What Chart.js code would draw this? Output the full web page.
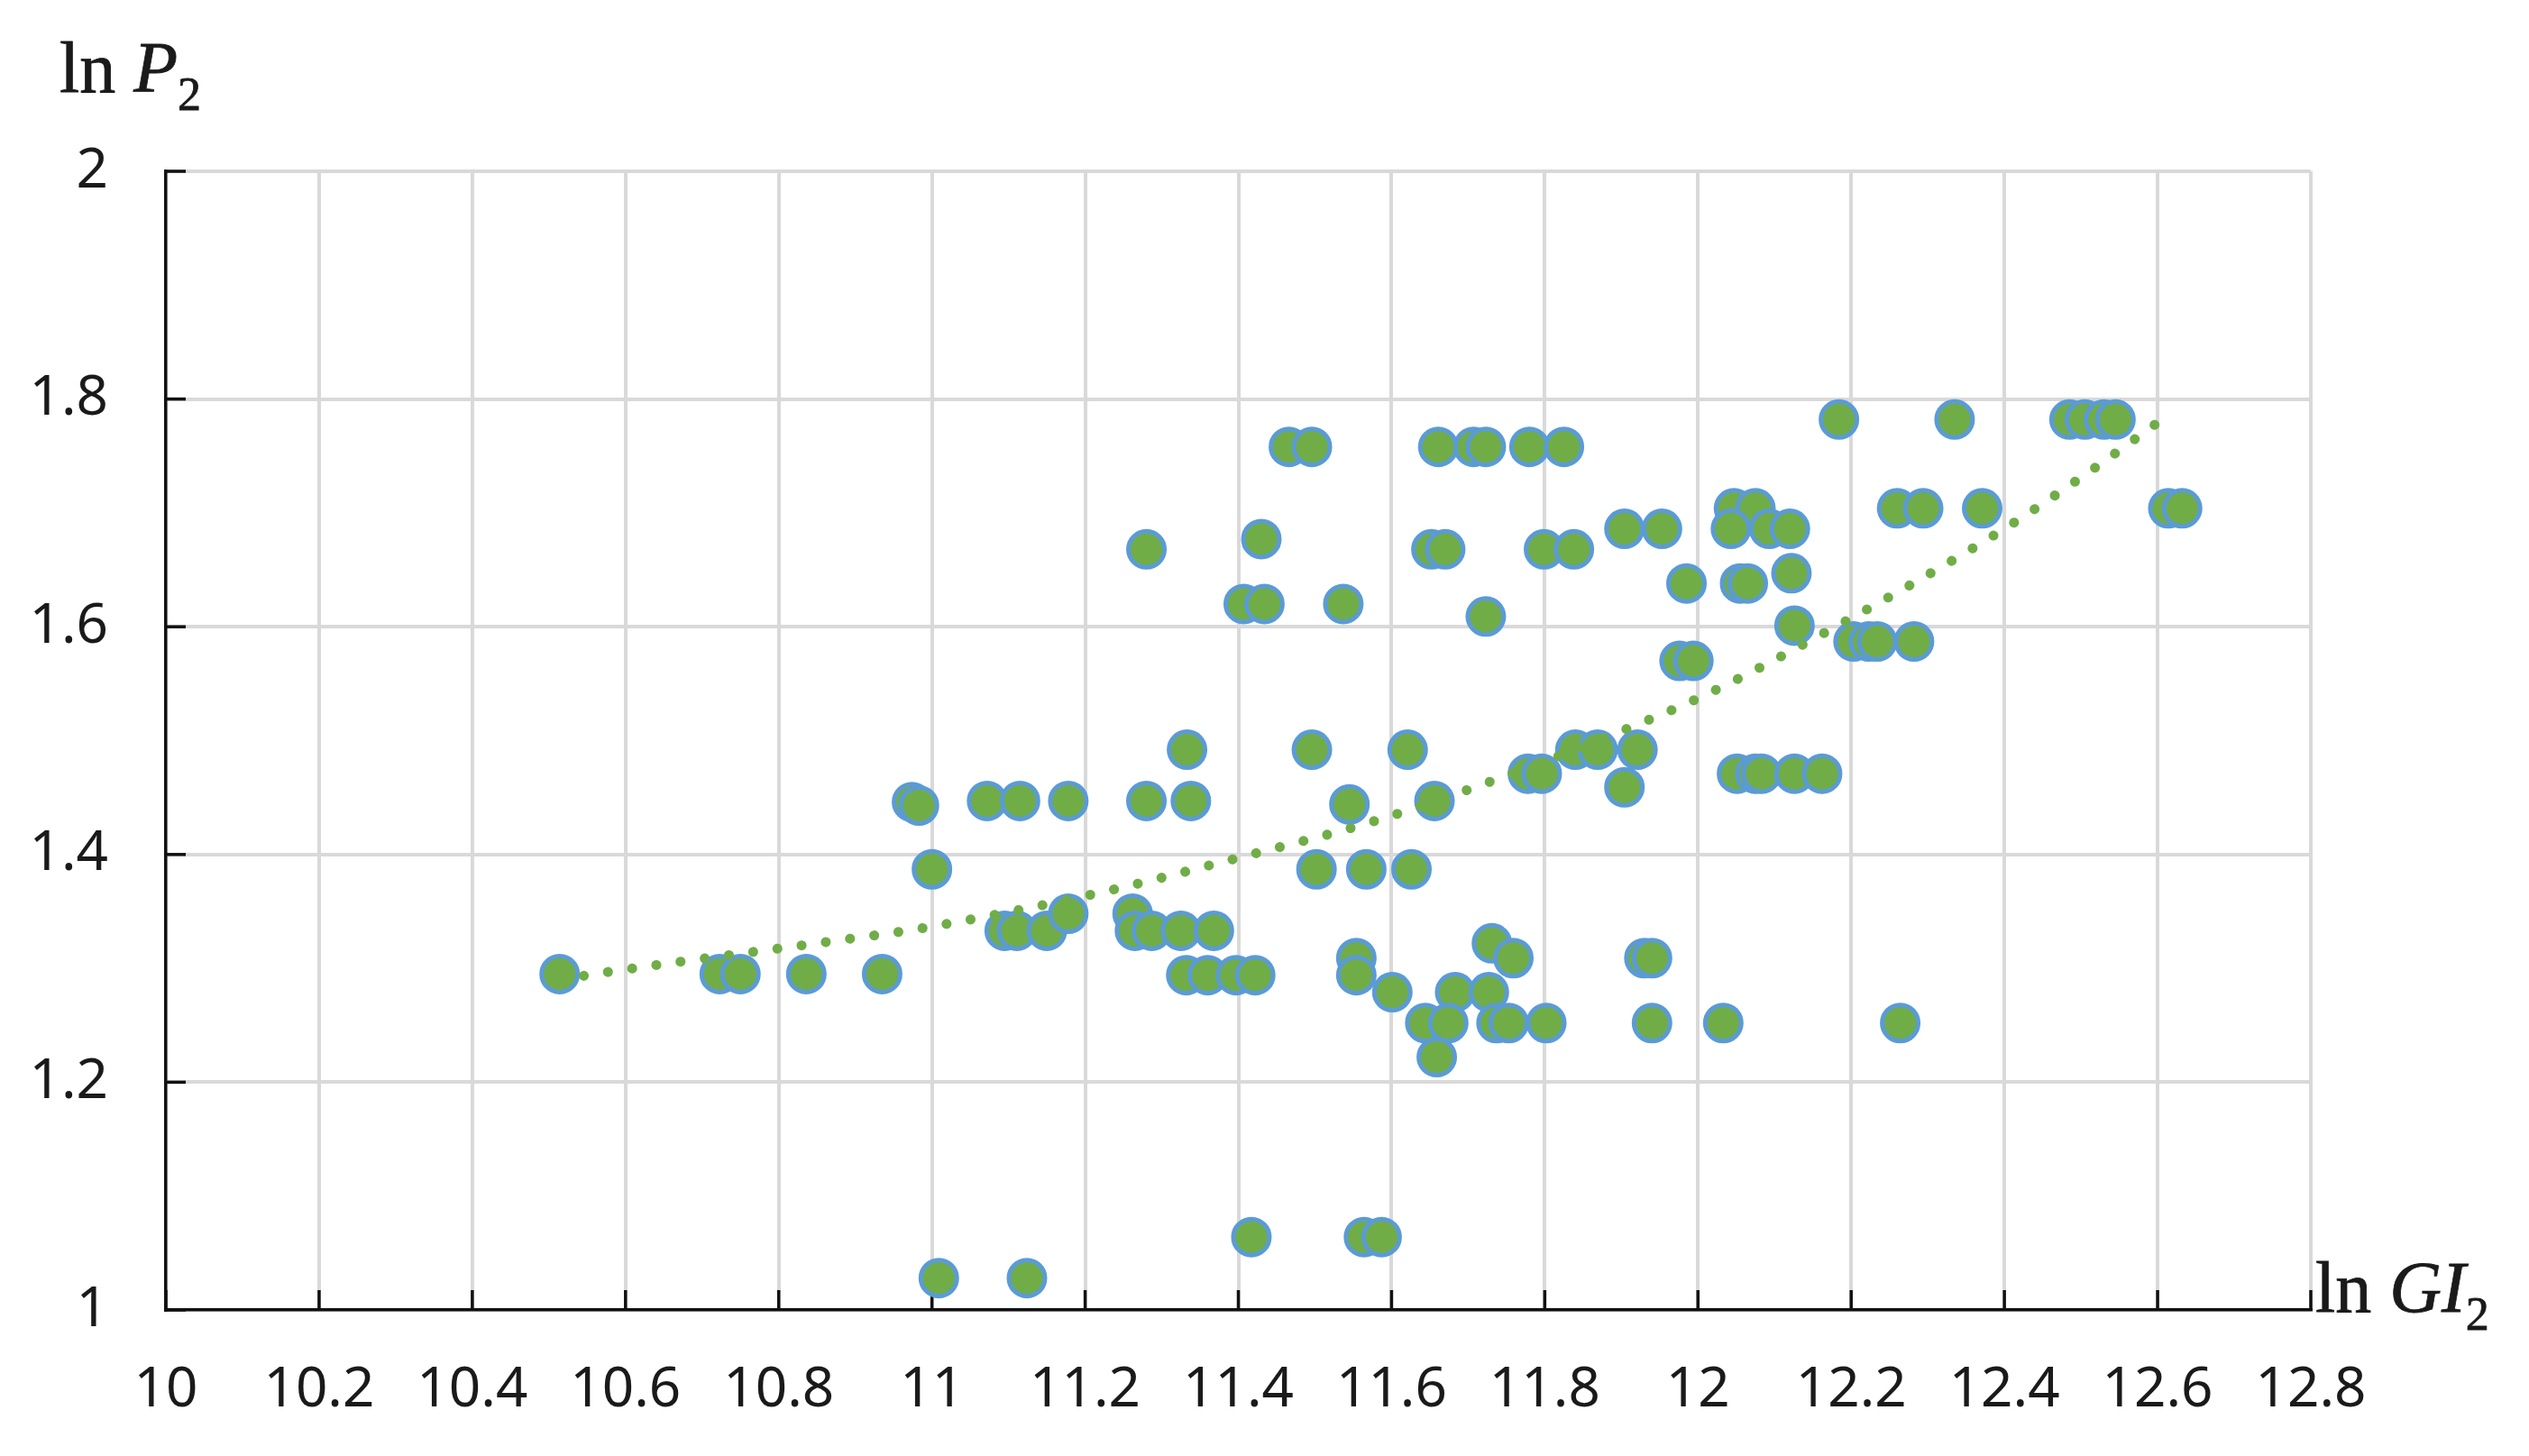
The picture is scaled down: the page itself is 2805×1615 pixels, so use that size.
<!DOCTYPE html>
<html>
<head>
<meta charset="utf-8">
<script src="https://cdn.jsdelivr.net/npm/chart.js@4.4.1/dist/chart.umd.min.js"></script>
<style>
    html, body { margin: 0; padding: 0; background: #fff; }
    .chart-container { position: relative; width: 2805px; height: 1615px; }
    .axis-title {
        position: absolute;
        font-family: "Liberation Serif", "Times New Roman", serif;
        font-size: 80px;
        line-height: 1;
        color: #1a1a1a;
        white-space: nowrap;
        -webkit-text-stroke: 0.8px #1a1a1a;
    }
    .axis-title i { font-style: italic; }
    .axis-title .sub { font-size: 52px; vertical-align: -20px; }
</style>
</head>
<body>
<div class="chart-container">
    <canvas id="scatterChart"></canvas>
    <div class="axis-title" style="left: 66px; top: 35px;">ln <i>P</i><span class="sub">2</span></div>
    <div class="axis-title" style="left: 2568px; top: 1388px;">ln <i>GI</i><span class="sub">2</span></div>
</div>
<script>
const pointsX = [10.514, 10.723, 10.750, 10.836, 10.935, 10.974, 10.983, 11.000, 11.009, 11.124,
    11.466, 11.496, 11.280, 11.430, 11.407, 11.434, 11.537, 11.333, 11.496, 11.072,
    11.115, 11.178, 11.280, 11.338, 11.545, 11.095, 11.111, 11.150, 11.178, 11.262,
    11.265, 11.287, 11.325, 11.368, 11.332, 11.360, 11.397, 11.422, 11.502, 11.567,
    11.554, 11.554, 11.417, 11.564, 11.587, 11.661, 11.707, 11.723, 11.780, 11.825,
    11.652, 11.670, 11.799, 11.838, 11.904, 11.953, 12.047, 12.075, 12.043, 12.093,
    12.120, 11.985, 12.055, 12.065, 12.122, 11.723, 12.126, 11.976, 11.994, 11.621,
    11.778, 11.796, 11.840, 11.869, 11.921, 11.904, 11.656, 12.051, 12.075, 12.083,
    12.126, 12.162, 11.626, 11.601, 11.731, 11.759, 11.683, 11.727, 11.644, 11.674,
    11.737, 11.753, 11.802, 11.659, 11.930, 11.940, 11.940, 12.033, 12.184, 12.335,
    12.485, 12.505, 12.530, 12.545, 12.260, 12.294, 12.371, 12.614, 12.632, 12.203,
    12.223, 12.234, 12.282, 12.264];

const pointsY = [1.295, 1.295, 1.295, 1.295, 1.295, 1.446, 1.443, 1.387, 1.028, 1.028,
    1.758, 1.758, 1.668, 1.677, 1.620, 1.620, 1.620, 1.492, 1.492, 1.447,
    1.447, 1.447, 1.447, 1.447, 1.444, 1.333, 1.333, 1.333, 1.348, 1.348,
    1.333, 1.333, 1.333, 1.333, 1.294, 1.294, 1.294, 1.294, 1.387, 1.387,
    1.309, 1.294, 1.064, 1.064, 1.064, 1.758, 1.758, 1.758, 1.758, 1.758,
    1.668, 1.668, 1.668, 1.668, 1.686, 1.686, 1.704, 1.704, 1.686, 1.686,
    1.686, 1.638, 1.638, 1.638, 1.647, 1.609, 1.601, 1.570, 1.570, 1.492,
    1.471, 1.471, 1.492, 1.492, 1.492, 1.459, 1.447, 1.471, 1.471, 1.471,
    1.471, 1.471, 1.387, 1.279, 1.322, 1.309, 1.279, 1.279, 1.252, 1.252,
    1.252, 1.252, 1.252, 1.222, 1.309, 1.309, 1.252, 1.252, 1.782, 1.782,
    1.782, 1.782, 1.782, 1.782, 1.704, 1.704, 1.704, 1.704, 1.704, 1.587,
    1.587, 1.587, 1.587, 1.252];

// dotted trend line
const trendX = [10.514, 10.579, 10.882, 10.985, 11.216, 11.411, 11.571, 11.729, 11.913, 12.006, 12.125, 12.388, 12.502, 12.62];
const trendY = [1.290, 1.297, 1.325, 1.335, 1.366, 1.399, 1.428, 1.464, 1.512, 1.539, 1.580, 1.681, 1.732, 1.789];

const xTicks = [10, 10.2, 10.4, 10.6, 10.8, 11, 11.2, 11.4, 11.6, 11.8, 12, 12.2, 12.4, 12.6, 12.8];
const yTicks = [1, 1.2, 1.4, 1.6, 1.8, 2];

const tickLabel = (v) => String(Number(v.toFixed(1)));

const innerTicks = {
    id: 'innerTicks',
    beforeDatasetsDraw(chart) {
        const { ctx, chartArea, scales } = chart;
        ctx.save();
        ctx.strokeStyle = '#111';
        ctx.lineWidth = 3.5;
        xTicks.forEach(v => {
            const px = scales.x.getPixelForValue(v);
            ctx.beginPath();
            ctx.moveTo(px, chartArea.bottom);
            ctx.lineTo(px, chartArea.bottom - 22);
            ctx.stroke();
        });
        yTicks.forEach(v => {
            const py = scales.y.getPixelForValue(v);
            ctx.beginPath();
            ctx.moveTo(chartArea.left, py);
            ctx.lineTo(chartArea.left + 22, py);
            ctx.stroke();
        });
        ctx.restore();
    }
};

const ctx = document.getElementById('scatterChart').getContext('2d');
new Chart(ctx, {
    type: 'scatter',
    data: {
        datasets: [{
            label: 'ln P2',
            data: pointsX.map((x, i) => ({ x: x, y: pointsY[i] })),
            backgroundColor: '#70ad47',
            borderColor: '#5b9bd5',
            pointRadius: 20,
            pointBorderWidth: 5,
            pointHoverRadius: 20,
            order: 2
        }, {
            label: 'trend',
            type: 'line',
            data: trendX.map((x, i) => ({ x: x, y: trendY[i] })),
            borderColor: '#70ad47',
            borderWidth: 11,
            borderDash: [0.1, 27],
            borderCapStyle: 'round',
            cubicInterpolationMode: 'monotone',
            pointRadius: 0,
            fill: false,
            order: 1
        }]
    },
    options: {
        responsive: true,
        maintainAspectRatio: false,
        animation: false,
        layout: { padding: { left: 0, top: 190, right: 242, bottom: 0 } },
        plugins: {
            legend: { display: false },
            tooltip: { enabled: false }
        },
        scales: {
            x: {
                type: 'linear',
                min: 10,
                max: 12.8,
                afterBuildTicks: (scale) => { scale.ticks = xTicks.map(v => ({ value: v })); },
                afterFit: (scale) => { scale.height = 162; },
                ticks: {
                    callback: tickLabel,
                    padding: 52,
                    maxRotation: 0,
                    autoSkip: false,
                    color: '#1a1a1a',
                    font: { family: '"Noto Sans", sans-serif', size: 62 }
                },
                grid: { color: '#d9d9d9', lineWidth: 4, drawTicks: false },
                border: { display: true, color: '#111', width: 3.5 }
            },
            y: {
                type: 'linear',
                min: 1,
                max: 2,
                afterBuildTicks: (scale) => { scale.ticks = yTicks.map(v => ({ value: v })); },
                afterFit: (scale) => { scale.width = 184; },
                ticks: {
                    callback: tickLabel,
                    padding: 64,
                    color: '#1a1a1a',
                    font: { family: '"Noto Sans", sans-serif', size: 62 }
                },
                grid: { color: '#d9d9d9', lineWidth: 4, drawTicks: false },
                border: { display: true, color: '#111', width: 3.5 }
            }
        }
    },
    plugins: [innerTicks]
});
</script>
</body>
</html>
